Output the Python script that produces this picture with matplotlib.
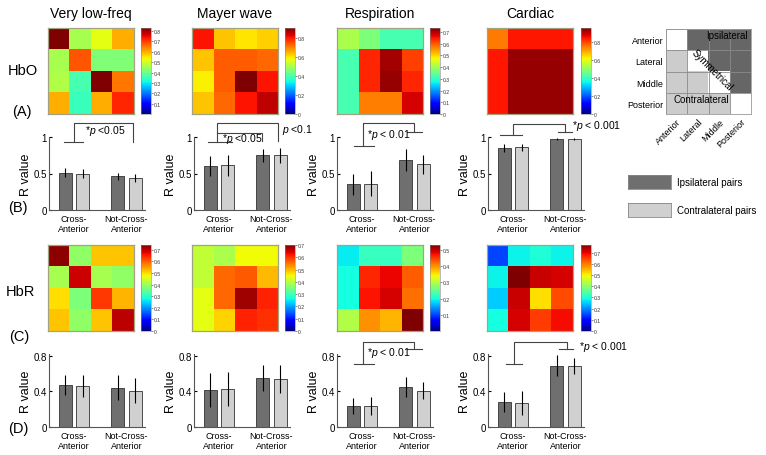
import numpy as np
import matplotlib
matplotlib.use('Agg')
import matplotlib.pyplot as plt
from matplotlib.colors import ListedColormap

plt.rcParams['font.family'] = ['Liberation Sans', 'DejaVu Sans']
plt.rcParams['mathtext.fontset'] = 'custom'
plt.rcParams['mathtext.rm'] = 'Liberation Sans'
plt.rcParams['mathtext.it'] = 'Liberation Sans:italic'

# ---------------- data ----------------
bands = ['Very low-freq', 'Mayer wave', 'Respiration', 'Cardiac']
groups = ['Cross-\nAnterior', 'Not-Cross-\nAnterior']
regions = ['Anterior', 'Lateral', 'Middle', 'Posterior']

hbo_vlf = [[0.83, 0.46, 0.52, 0.60],
           [0.46, 0.68, 0.42, 0.42],
           [0.47, 0.36, 0.83, 0.65],
           [0.60, 0.35, 0.60, 0.72]]
hbo_mayer = [[0.80, 0.63, 0.60, 0.62],
             [0.63, 0.73, 0.73, 0.72],
             [0.59, 0.73, 0.90, 0.80],
             [0.63, 0.72, 0.80, 0.85]]
hbo_resp = [[0.41, 0.37, 0.32, 0.32],
            [0.32, 0.64, 0.71, 0.62],
            [0.32, 0.64, 0.72, 0.64],
            [0.32, 0.57, 0.57, 0.68]]
hbo_card = [[0.74, 0.84, 0.84, 0.84],
            [0.84, 0.93, 0.93, 0.93],
            [0.84, 0.93, 0.93, 0.93],
            [0.84, 0.93, 0.93, 0.93]]
hbr_vlf = [[0.73, 0.39, 0.52, 0.52],
           [0.41, 0.69, 0.41, 0.39],
           [0.50, 0.37, 0.63, 0.53],
           [0.52, 0.39, 0.52, 0.70]]
hbr_mayer = [[0.41, 0.39, 0.45, 0.45],
             [0.41, 0.56, 0.57, 0.50],
             [0.44, 0.56, 0.68, 0.61],
             [0.44, 0.48, 0.61, 0.60]]
hbr_resp = [[0.19, 0.22, 0.22, 0.265],
            [0.20, 0.46, 0.48, 0.43],
            [0.20, 0.47, 0.49, 0.42],
            [0.30, 0.40, 0.38, 0.53]]
hbr_card = [[0.15, 0.28, 0.30, 0.28],
            [0.28, 0.77, 0.72, 0.71],
            [0.25, 0.72, 0.52, 0.64],
            [0.29, 0.71, 0.65, 0.69]]

hbo_maps = [hbo_vlf, hbo_mayer, hbo_resp, hbo_card]
hbr_maps = [hbr_vlf, hbr_mayer, hbr_resp, hbr_card]
hbo_vmax = [0.83, 0.90, 0.735, 0.95]
hbr_vmax = [0.74, 0.70, 0.53, 0.77]
hbo_cticks = [[0.1, 0.2, 0.3, 0.4, 0.5, 0.6, 0.7, 0.8],
              [0, 0.2, 0.4, 0.6, 0.8],
              [0, 0.1, 0.2, 0.3, 0.4, 0.5, 0.6, 0.7],
              [0, 0.2, 0.4, 0.6, 0.8]]
hbr_cticks = [[0, 0.1, 0.2, 0.3, 0.4, 0.5, 0.6, 0.7],
              [0, 0.1, 0.2, 0.3, 0.4, 0.5, 0.6, 0.7],
              [0.1, 0.2, 0.3, 0.4, 0.5],
              [0, 0.1, 0.2, 0.3, 0.4, 0.5, 0.6, 0.7]]

# bar values: [Cross, NotCross] for ipsilateral / contralateral
hbo_ipsi = [[0.51, 0.46], [0.60, 0.75], [0.35, 0.69], [0.85, 0.97]]
hbo_contra = [[0.50, 0.44], [0.61, 0.75], [0.36, 0.63], [0.86, 0.97]]
hbo_ipsi_err = [[0.06, 0.045], [0.14, 0.09], [0.15, 0.15], [0.05, 0.01]]
hbo_contra_err = [[0.06, 0.06], [0.14, 0.10], [0.17, 0.13], [0.05, 0.01]]
hbr_ipsi = [[0.47, 0.44], [0.42, 0.55], [0.24, 0.45], [0.28, 0.69]]
hbr_contra = [[0.46, 0.41], [0.43, 0.54], [0.24, 0.41], [0.27, 0.68]]
hbr_ipsi_err = [[0.11, 0.14], [0.19, 0.15], [0.09, 0.115], [0.11, 0.12]]
hbr_contra_err = [[0.12, 0.14], [0.19, 0.16], [0.10, 0.09], [0.13, 0.09]]

# ---------------- layout ----------------
W, H = 766, 456
fig = plt.figure(figsize=(W / 100, H / 100), dpi=100)
fig.patch.set_facecolor('white')


def px(l, t, r, b):
    return [l / W, 1 - b / H, (r - l) / W, (b - t) / H]


hm_left = [48, 192, 337, 487]
cb_left = [141, 285, 430, 581]
bar_left = [49, 194, 337, 488]
DARK = '#6f6f6f'
LIGHT = '#d0d0d0'


def heatmap(i, top, data, vmax, ticks):
    ax = fig.add_axes(px(hm_left[i], top, hm_left[i] + 86, top + 86))
    im = ax.imshow(np.array(data), cmap='jet', vmin=0, vmax=vmax,
                   interpolation='nearest', aspect='auto')
    ax.set_xticks([])
    ax.set_yticks([])
    for s in ax.spines.values():
        s.set_color('#a3a383')
        s.set_linewidth(0.9)
    cax = fig.add_axes(px(cb_left[i], top, cb_left[i] + 9.5, top + 86))
    cb = fig.colorbar(im, cax=cax, ticks=ticks)
    cb.ax.set_yticklabels([('%g' % t) for t in ticks])
    cb.ax.tick_params(labelsize=3.6, length=1.5, width=0.4, pad=1,
                      colors='#333333')
    cb.outline.set_linewidth(0.4)
    cb.outline.set_edgecolor('#888888')
    return ax


def barpanel(i, top, bottom, ymax, yticks, ipsi, contra, ie, ce, brackets):
    ax = fig.add_axes(px(bar_left[i], top, bar_left[i] + 96, bottom))
    x = np.arange(len(groups))
    ax.bar(x - 0.167, ipsi, 0.25, yerr=ie, color=DARK, edgecolor='#333333',
           linewidth=0.6, error_kw=dict(elinewidth=0.8, ecolor='black', capsize=0))
    ax.bar(x + 0.167, contra, 0.25, yerr=ce, color=LIGHT, edgecolor='#333333',
           linewidth=0.6, error_kw=dict(elinewidth=0.8, ecolor='black', capsize=0))
    ax.set_xlim(-0.476, 1.353)
    ax.set_ylim(0, ymax)
    ax.set_yticks(yticks)
    ax.set_yticklabels([('%g' % t) for t in yticks])
    ax.set_xticks(x)
    ax.set_xticklabels(groups, fontsize=6.5, linespacing=1.1)
    ax.tick_params(axis='x', length=0, pad=3)
    ax.tick_params(axis='y', direction='in', length=2, labelsize=7, pad=1.5)
    ax.set_ylabel('R value', fontsize=9, labelpad=1)
    for s in ['top', 'right']:
        ax.spines[s].set_visible(False)
    for s in ['left', 'bottom']:
        ax.spines[s].set_color('#555555')
        ax.spines[s].set_linewidth(0.8)
    ax.patch.set_alpha(0)
    for kind, a, b in brackets:
        if kind == 'line':
            ax.plot(a, b, color='#444444', lw=0.8, clip_on=False)
        else:
            ax.text(a[0], a[1], b, fontsize=7.5, ha='left', va='center',
                    clip_on=False)
    return ax


# HbO heatmaps
for i in range(4):
    heatmap(i, 29, hbo_maps[i], hbo_vmax[i], hbo_cticks[i])
    fig.text((hm_left[i] + 43) / W, 1 - 14 / H, bands[i], fontsize=10,
             ha='center', va='center')
# HbR heatmaps
for i in range(4):
    heatmap(i, 246, hbr_maps[i], hbr_vmax[i], hbr_cticks[i])

# brackets (data coordinates of each bar panel)
L = 'line'
T = 'text'
br_B = [
    [(L, [-0.19, 0.17], [0.93, 0.93]), (L, [0, 0, 1.12, 1.12], [0.93, 1.19, 1.19, 0.93]),
     (T, (0.21, 1.09), '*$p$ <0.05')],
    [(L, [-0.21, 0.25], [0.93, 0.93]), (L, [-0.03, -0.03, 1.12, 1.12], [0.93, 1.19, 1.19, 0.95]),
     (L, [-0.03, 0.82, 0.82], [1.06, 1.06, 0.95]),
     (T, (0.06, 0.985), '*$p$ <0.05'), (T, (1.2, 1.11), '$p$ <0.1')],
    [(L, [-0.15, 0.23], [0.88, 0.88]), (L, [0.02, 0.02, 1.0, 1.0], [0.88, 1.19, 1.19, 1.07]),
     (L, [0.86, 1.14], [1.07, 1.07]), (T, (0.1, 1.04), '*$p$ < 0.01')],
    [(L, [-0.25, 0.17], [1.03, 1.03]), (L, [0.0, 0.0, 1.0, 1.0], [1.03, 1.18, 1.18, 1.07]),
     (L, [0.86, 1.12], [1.07, 1.07]), (T, (1.13, 1.17), '*$p$ < 0.001')],
]
br_D = [
    [],
    [],
    [(L, [-0.15, 0.23], [0.71, 0.71]), (L, [0.02, 0.02, 0.99, 0.99], [0.71, 0.96, 0.96, 0.88]),
     (L, [0.86, 1.14], [0.88, 0.88]), (T, (0.1, 0.84), '*$p$ < 0.01')],
    [(L, [-0.13, 0.17], [0.71, 0.71]), (L, [0.02, 0.02, 1.03, 1.03], [0.71, 0.95, 0.95, 0.88]),
     (L, [0.88, 1.14], [0.88, 0.88]), (T, (1.26, 0.91), '*$p$ < 0.001')],
]

for i in range(4):
    barpanel(i, 138, 211, 1.0, [0, 0.5, 1], hbo_ipsi[i], hbo_contra[i],
             hbo_ipsi_err[i], hbo_contra_err[i], br_B[i])
    barpanel(i, 355, 428, 0.82, [0, 0.4, 0.8], hbr_ipsi[i], hbr_contra[i],
             hbr_ipsi_err[i], hbr_contra_err[i], br_D[i])

# row / panel labels
for txt, xx, yy in [('HbO', 23, 71), ('(A)', 22, 112), ('(B)', 18, 208),
                    ('HbR', 20, 292), ('(C)', 19, 337), ('(D)', 18, 429)]:
    fig.text(xx / W, 1 - yy / H, txt, fontsize=10.5, ha='center', va='center')

# schematic
sch = np.array([[0 if r == c else (2 if c > r else 1) for c in range(4)] for r in range(4)])
axs = fig.add_axes(px(666, 30, 751, 115))
axs.imshow(sch, cmap=ListedColormap(['white', '#cccccc', '#666666']), vmin=0, vmax=2,
           aspect='auto')
axs.set_xticks(np.arange(-0.5, 4, 1), minor=True)
axs.set_yticks(np.arange(-0.5, 4, 1), minor=True)
axs.grid(which='minor', color='#8a8a8a', lw=0.6)
axs.tick_params(which='both', length=0)
axs.set_yticks(range(4))
axs.set_yticklabels(regions, fontsize=6.5)
axs.set_xticks(range(4))
axs.set_xticklabels(regions, fontsize=6.5, rotation=45, ha='right',
                    rotation_mode='anchor')
axs.tick_params(axis='x', pad=2)
axs.tick_params(axis='y', pad=2)
for s in axs.spines.values():
    s.set_color('#999999')
    s.set_linewidth(0.6)
axs.text(2.37, -0.2, 'Ipsilateral', fontsize=7, ha='center', va='center')
axs.text(1.15, 2.8, 'Contralateral', fontsize=7, ha='center', va='center')
axs.text(1.66, 1.4, 'Symmetrical', fontsize=7, ha='center', va='center',
         rotation=-45)

# legend
for col, lab, t in [(DARK, 'Ipsilateral pairs', 176), (LIGHT, 'Contralateral pairs', 204)]:
    la = fig.add_axes(px(628, t, 671, t + 14))
    la.set_facecolor(col)
    la.set_xticks([])
    la.set_yticks([])
    for s in la.spines.values():
        s.set_color('#888888')
        s.set_linewidth(0.6)
    fig.text(677 / W, 1 - (t + 7) / H, lab, fontsize=7, ha='left', va='center')

fig.savefig('out.png', dpi=100)
